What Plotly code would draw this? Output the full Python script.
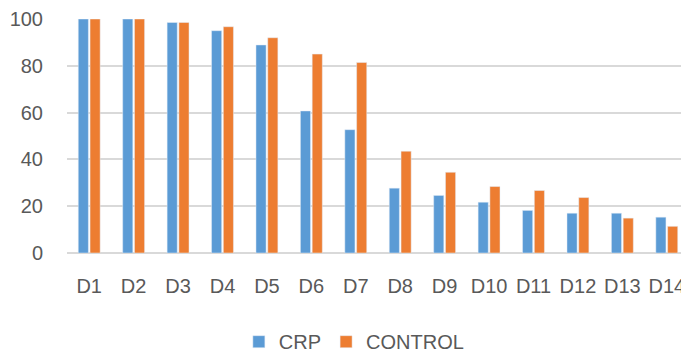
import plotly.graph_objects as go

categories = ["D1", "D2", "D3", "D4", "D5", "D6", "D7", "D8", "D9", "D10", "D11", "D12", "D13", "D14"]
crp = [100, 100, 98.5, 95.0, 88.9, 60.7, 52.7, 27.7, 24.6, 21.7, 18.2, 17.0, 17.0, 15.3]
control = [100, 100, 98.5, 96.7, 92.0, 85.0, 81.4, 43.5, 34.5, 28.4, 26.7, 23.7, 14.9, 11.4]
y_ticks = [0, 20, 40, 60, 80, 100]

FONT = "Liberation Sans"
GRAY = "#595959"

fig = go.Figure()
fig.add_trace(go.Bar(name="CRP", x=categories, y=crp, marker_color="#5B9BD5"))
fig.add_trace(go.Bar(name="CONTROL", x=categories, y=control, marker_color="#ED7D31"))

# the page body adds an 8px offset, so the figure is sized 8px smaller
fig.update_layout(
    width=681, height=347,
    margin=dict(l=59, r=0, t=11, b=102, autoexpand=False),
    plot_bgcolor="white", paper_bgcolor="white",
    barmode="group", bargap=0.47, bargroupgap=0.14,
    font=dict(family=FONT, size=20, color=GRAY),
    showlegend=True,
    legend=dict(orientation="h", x=0.462, xanchor="center", y=-0.379, yanchor="middle",
                font=dict(family=FONT, size=20, color=GRAY), itemclick=False,
                bgcolor="rgba(0,0,0,0)"),
    xaxis=dict(type="category", range=[-0.5, 13.5], showgrid=False, showline=False,
               ticks="", ticklabelstandoff=19, tickfont=dict(size=20, color=GRAY)),
    yaxis=dict(range=[0, 100], tickvals=y_ticks, showgrid=True, gridcolor="#D9D9D9", gridwidth=1.5,
               zeroline=True, zerolinecolor="#D9D9D9", zerolinewidth=1.5,
               showline=False, ticks="", ticklabelstandoff=23, tickfont=dict(size=20, color=GRAY)),
)

fig.write_html("out.html")
